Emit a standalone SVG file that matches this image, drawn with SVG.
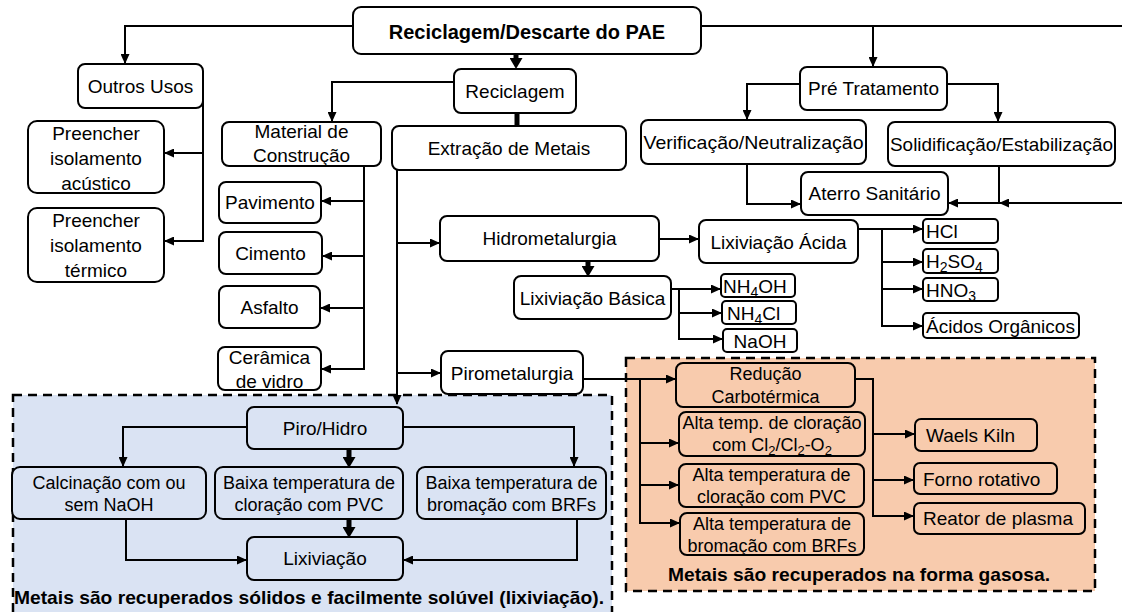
<svg xmlns="http://www.w3.org/2000/svg" width="1122" height="612" viewBox="0 0 1122 612">
<style>
text{font-family:"Liberation Sans",Arial,sans-serif;font-size:19px;fill:#000}
.m text{font-size:18px}
.bt{font-weight:bold}
rect.n{fill:#fff;stroke:#000;stroke-width:2}
rect.o{fill:#F8CBAD;stroke:#000;stroke-width:2}
rect.b{fill:#DAE3F3;stroke:#000;stroke-width:2}
.c path{fill:none;stroke:#000;stroke-width:2}
.c path.k{stroke-width:5}
.reg{stroke:#000;stroke-width:2.5;stroke-dasharray:9 6}
</style>
<defs>
<marker id="a" markerUnits="userSpaceOnUse" markerWidth="10" markerHeight="9" refX="9" refY="4.5" orient="auto"><path d="M0,0 L10,4.5 L0,9 z" fill="#000"/></marker>
<marker id="t" markerUnits="userSpaceOnUse" markerWidth="12" markerHeight="13" refX="4" refY="6.5" orient="auto"><path d="M0,0 L11,6.5 L0,13 z" fill="#000"/></marker>
</defs>
<rect width="1122" height="612" fill="#fff"/>
<g id="regions">
<rect class="reg" x="13" y="395" width="599" height="222" fill="#DAE3F3"/>
<rect class="reg" x="626" y="358" width="469" height="233" fill="#F8CBAD"/>
</g>
<g id="connectors" class="c">
<path d="M353,26 H125 V63" marker-end="url(#a)"/>
<path d="M701,26 H1122"/>
<path d="M873,26 V66" marker-end="url(#a)"/>
<path d="M203,100 V241 H165" marker-end="url(#a)"/>
<path d="M203,153 H165" marker-end="url(#a)"/>
<path class="k" d="M516,54 V62" marker-end="url(#t)"/>
<path d="M454,82 H332 V121" marker-end="url(#a)"/>
<path class="k" d="M517,113 V126"/>
<path d="M364,166 V369 H322" marker-end="url(#a)"/>
<path d="M364,201 H322" marker-end="url(#a)"/>
<path d="M364,256 H323" marker-end="url(#a)"/>
<path d="M364,308 H321" marker-end="url(#a)"/>
<path d="M397,170 V404" marker-end="url(#a)"/>
<path d="M397,243 H439" marker-end="url(#a)"/>
<path d="M397,373 H440" marker-end="url(#a)"/>
<path d="M659,239 H698" marker-end="url(#a)"/>
<path class="k" d="M588,261 V270" marker-end="url(#t)"/>
<path d="M671,289 H720" marker-end="url(#a)"/>
<path d="M679,289 V339 H722" marker-end="url(#a)"/>
<path d="M679,313 H721" marker-end="url(#a)"/>
<path d="M858,229 H922" marker-end="url(#a)"/>
<path d="M882,229 V326 H922" marker-end="url(#a)"/>
<path d="M882,262 H922" marker-end="url(#a)"/>
<path d="M882,289 H922" marker-end="url(#a)"/>
<path d="M583,379 H675" marker-end="url(#a)"/>
<path d="M640,379 V523 H679" marker-end="url(#a)"/>
<path d="M640,443 H678" marker-end="url(#a)"/>
<path d="M640,485 H678" marker-end="url(#a)"/>
<path d="M855,379 H873 V516 H913" marker-end="url(#a)"/>
<path d="M873,434 H914" marker-end="url(#a)"/>
<path d="M873,480 H913" marker-end="url(#a)"/>
<path d="M800,84 H747 V119" marker-end="url(#a)"/>
<path d="M947,84 H998 V121" marker-end="url(#a)"/>
<path d="M747,164 V204 H800" marker-end="url(#a)"/>
<path d="M999,166 V203 H949" marker-end="url(#a)"/>
<path d="M1122,203 H1000" marker-end="url(#a)"/>
<path d="M247,427 H123 V466" marker-end="url(#a)"/>
<path d="M403,427 H574 V466" marker-end="url(#a)"/>
<path class="k" d="M349,449 V461" marker-end="url(#t)"/>
<path d="M126,519 V560 H246" marker-end="url(#a)"/>
<path d="M577,519 V560 H404" marker-end="url(#a)"/>
<path class="k" d="M349,519 V531" marker-end="url(#t)"/>
</g>
<g id="n-top"><rect class="n" x="353" y="7" width="348" height="47" rx="8"/><text class="bt" x="527" y="39" text-anchor="middle" font-size="20" style="font-size:20px">Reciclagem/Descarte do PAE</text></g>
<g id="n-outros"><rect class="n" x="78" y="64" width="125" height="44" rx="7"/><text x="140.5" y="93" text-anchor="middle">Outros Usos</text></g>
<g id="n-acustico"><rect class="n" x="28" y="121" width="136" height="72" rx="9"/><text x="96" text-anchor="middle"><tspan x="96" y="140">Preencher</tspan><tspan x="96" y="165">isolamento</tspan><tspan x="96" y="190">acústico</tspan></text></g>
<g id="n-termico"><rect class="n" x="28" y="208" width="136" height="74" rx="9"/><text x="96" text-anchor="middle"><tspan x="96" y="227">Preencher</tspan><tspan x="96" y="252">isolamento</tspan><tspan x="96" y="277">térmico</tspan></text></g>
<g id="n-reciclagem"><rect class="n" x="454" y="69" width="122" height="44" rx="7"/><text x="515" y="98" text-anchor="middle">Reciclagem</text></g>
<g id="n-material"><rect class="n" x="222" y="122" width="159" height="44" rx="7"/><text text-anchor="middle"><tspan x="301.5" y="138">Material de</tspan><tspan x="301.5" y="162">Construção</tspan></text></g>
<g id="n-pavimento"><rect class="n" x="219" y="182" width="102" height="41" rx="7"/><text x="270" y="209" text-anchor="middle">Pavimento</text></g>
<g id="n-cimento"><rect class="n" x="219" y="232" width="103" height="42" rx="7"/><text x="270.5" y="260" text-anchor="middle">Cimento</text></g>
<g id="n-asfalto"><rect class="n" x="219" y="286" width="101" height="42" rx="7"/><text x="269.5" y="314" text-anchor="middle">Asfalto</text></g>
<g id="n-ceramica"><rect class="n" x="218" y="347" width="103" height="43" rx="7"/><text text-anchor="middle"><tspan x="269.5" y="364">Cerâmica</tspan><tspan x="269.5" y="388">de vidro</tspan></text></g>
<g id="n-extracao"><rect class="n" x="392" y="126" width="234" height="44" rx="7"/><text x="509" y="155" text-anchor="middle">Extração de Metais</text></g>
<g id="n-pre"><rect class="n" x="800" y="67" width="147" height="43" rx="7"/><text x="873.5" y="95" text-anchor="middle">Pré Tratamento</text></g>
<g id="n-verif"><rect class="n" x="641" y="120" width="225" height="44" rx="7"/><text x="753.5" y="149" text-anchor="middle" textLength="220" lengthAdjust="spacingAndGlyphs">Verificação/Neutralização</text></g>
<g id="n-solid"><rect class="n" x="888" y="122" width="227" height="44" rx="7"/><text x="1001.5" y="151" text-anchor="middle" textLength="223" lengthAdjust="spacingAndGlyphs">Solidificação/Estabilização</text></g>
<g id="n-aterro"><rect class="n" x="801" y="172" width="147" height="43" rx="7"/><text x="874.5" y="200" text-anchor="middle">Aterro Sanitário</text></g>
<g id="n-hidro"><rect class="n" x="440" y="216" width="219" height="45" rx="7"/><text x="549.5" y="245" text-anchor="middle">Hidrometalurgia</text></g>
<g id="n-acida"><rect class="n" x="699" y="220" width="159" height="43" rx="7"/><text x="778.5" y="249" text-anchor="middle">Lixiviação Ácida</text></g>
<g id="n-basica"><rect class="n" x="514" y="276" width="157" height="43" rx="7"/><text x="592.5" y="305" text-anchor="middle">Lixiviação Básica</text></g>
<g id="n-nh4oh"><rect class="n" x="721" y="274" width="74" height="23" rx="4"/><text x="723" y="293">NH<tspan dy="4" style="font-size:14px">4</tspan><tspan dy="-4">OH</tspan></text></g>
<g id="n-nh4cl"><rect class="n" x="722" y="301" width="74" height="23" rx="4"/><text x="727" y="320">NH<tspan dy="4" style="font-size:14px">4</tspan><tspan dy="-4">Cl</tspan></text></g>
<g id="n-naoh"><rect class="n" x="723" y="329" width="74" height="23" rx="4"/><text x="760" y="348" text-anchor="middle">NaOH</text></g>
<g id="n-hcl"><rect class="n" x="923" y="219" width="75" height="24" rx="4"/><text x="926" y="238">HCl</text></g>
<g id="n-h2so4"><rect class="n" x="923" y="249" width="75" height="24" rx="4"/><text x="926" y="268">H<tspan dy="4" style="font-size:14px">2</tspan><tspan dy="-4">SO</tspan><tspan dy="4" style="font-size:14px">4</tspan></text></g>
<g id="n-hno3"><rect class="n" x="923" y="278" width="75" height="23" rx="4"/><text x="926" y="297">HNO<tspan dy="4" style="font-size:14px">3</tspan></text></g>
<g id="n-acidos"><rect class="n" x="923" y="313" width="156" height="25" rx="4"/><text x="926" y="333">Ácidos Orgânicos</text></g>
<g id="n-piro"><rect class="n" x="441" y="351" width="142" height="43" rx="7"/><text x="512" y="380" text-anchor="middle">Pirometalurgia</text></g>
<g id="n-reducao" class="m"><rect class="o" x="676" y="363" width="179" height="44" rx="7"/><text text-anchor="middle"><tspan x="765.5" y="380">Redução</tspan><tspan x="765.5" y="403">Carbotérmica</tspan></text></g>
<g id="n-cl2" class="m"><rect class="o" x="679" y="412" width="186" height="44" rx="7"/><text text-anchor="middle"><tspan x="772" y="429">Alta temp. de cloração</tspan><tspan x="772" y="451">com Cl<tspan dy="4" style="font-size:13px">2</tspan><tspan dy="-4">/Cl</tspan><tspan dy="4" style="font-size:13px">2</tspan><tspan dy="-4">-O</tspan><tspan dy="4" style="font-size:13px">2</tspan></tspan></text></g>
<g id="n-pvc" class="m"><rect class="o" x="679" y="464" width="185" height="43" rx="7"/><text text-anchor="middle"><tspan x="771.5" y="481">Alta temperatura de</tspan><tspan x="771.5" y="503">cloração com PVC</tspan></text></g>
<g id="n-brfs" class="m"><rect class="o" x="680" y="513" width="184" height="42" rx="7"/><text text-anchor="middle"><tspan x="772" y="530">Alta temperatura de</tspan><tspan x="772" y="552">bromação com BRFs</tspan></text></g>
<g id="n-waels"><rect class="o" x="915" y="419" width="122" height="32" rx="6"/><text x="926" y="442">Waels Kiln</text></g>
<g id="n-forno"><rect class="o" x="914" y="463" width="143" height="31" rx="6"/><text x="923" y="486">Forno rotativo</text></g>
<g id="n-reator"><rect class="o" x="914" y="503" width="171" height="31" rx="6"/><text x="923" y="525">Reator de plasma</text></g>
<g id="n-pirohidro"><rect class="b" x="247" y="407" width="156" height="42" rx="7"/><text x="325" y="435" text-anchor="middle">Piro/Hidro</text></g>
<g id="n-calc" class="m"><rect class="b" x="12" y="467" width="194" height="52" rx="8"/><text text-anchor="middle"><tspan x="109" y="489">Calcinação com ou</tspan><tspan x="109" y="511">sem NaOH</tspan></text></g>
<g id="n-baixacl" class="m"><rect class="b" x="215" y="467" width="188" height="52" rx="8"/><text text-anchor="middle"><tspan x="309" y="489">Baixa temperatura de</tspan><tspan x="309" y="511">cloração com PVC</tspan></text></g>
<g id="n-baixabr" class="m"><rect class="b" x="417" y="467" width="189" height="52" rx="8"/><text text-anchor="middle"><tspan x="511.5" y="489">Baixa temperatura de</tspan><tspan x="511.5" y="511">bromação com BRFs</tspan></text></g>
<g id="n-lixiv"><rect class="b" x="247" y="537" width="156" height="43" rx="7"/><text x="325" y="565" text-anchor="middle">Lixiviação</text></g>
<g id="labels">
<text class="bt" x="14" y="604" textLength="590" lengthAdjust="spacingAndGlyphs">Metais são recuperados sólidos e facilmente solúvel (lixiviação).</text>
<text class="bt" x="668" y="581" textLength="382" lengthAdjust="spacingAndGlyphs">Metais são recuperados na forma gasosa.</text>
</g>
</svg>
